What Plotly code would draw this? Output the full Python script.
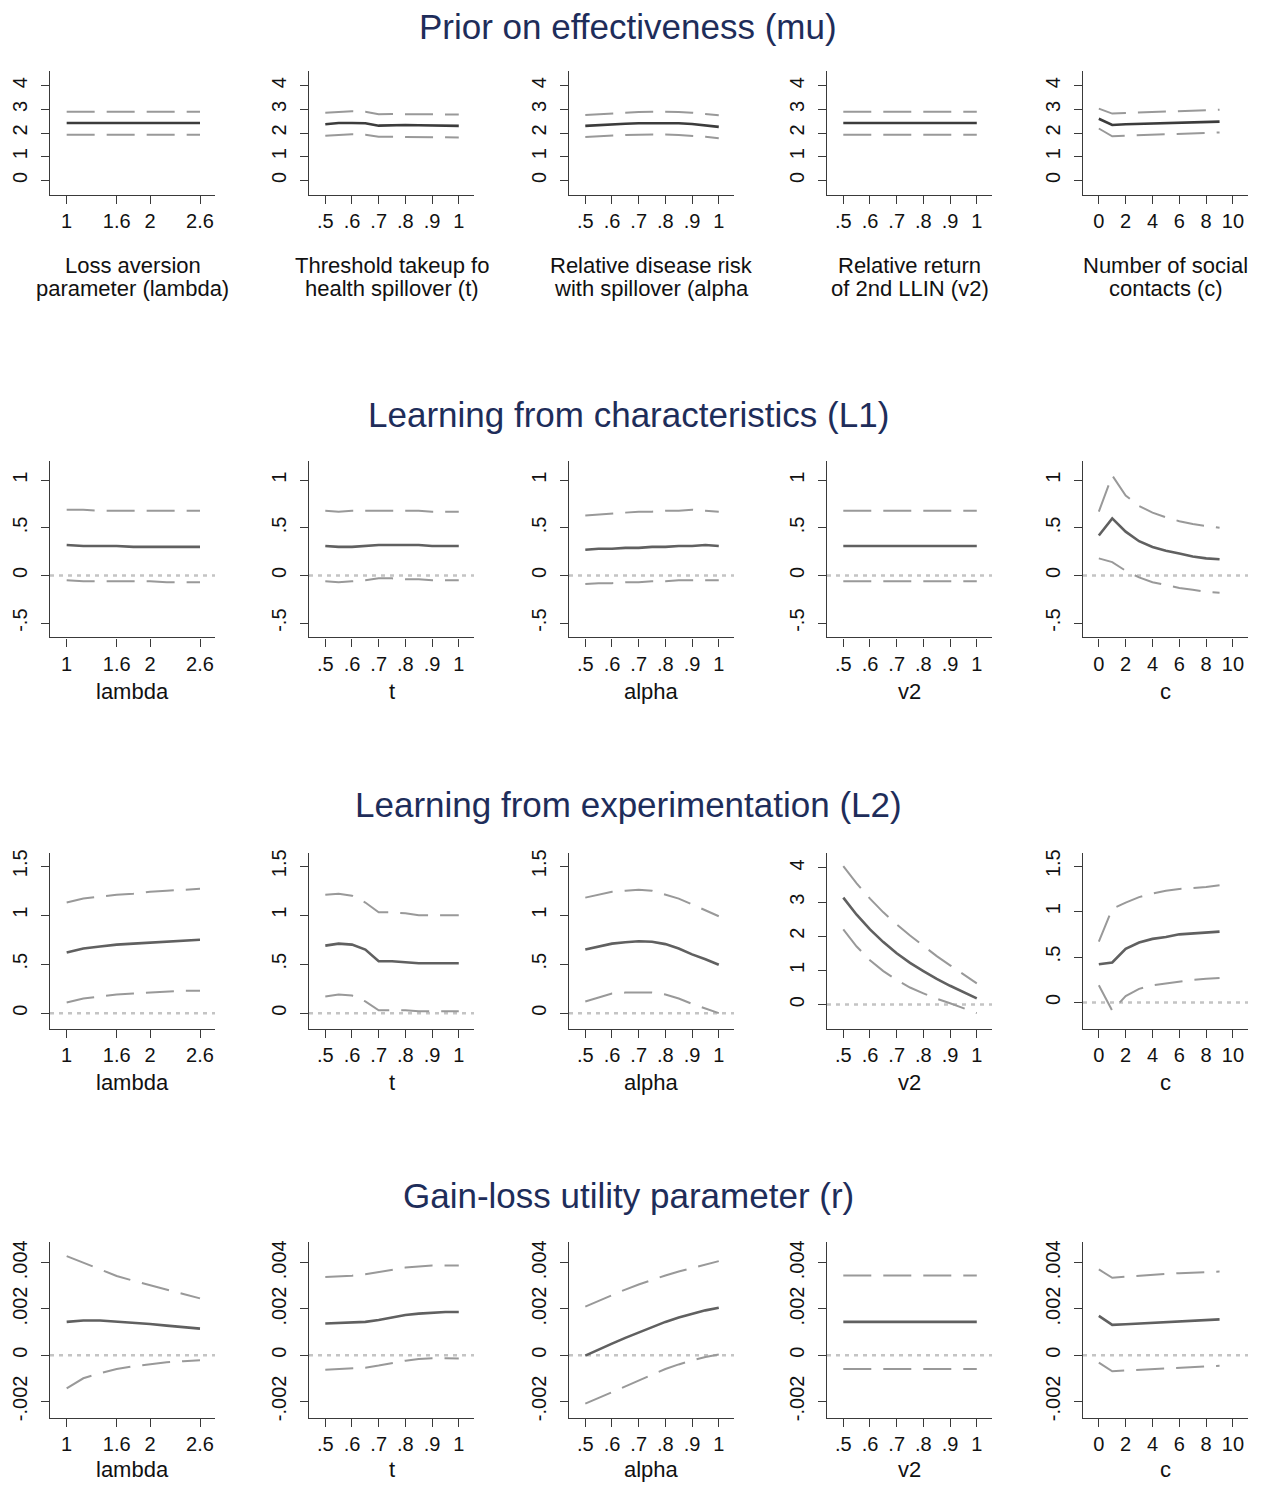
import plotly.graph_objects as go

# ---------------- x grids ----------------
lam_x = [1.0, 1.2, 1.4, 1.6, 1.8, 2.0, 2.2, 2.4, 2.6]
t_x = [0.5, 0.55, 0.6, 0.65, 0.7, 0.75, 0.8, 0.85, 0.9, 0.95, 1.0]
alpha_x = [0.5, 0.55, 0.6, 0.65, 0.7, 0.75, 0.8, 0.85, 0.9, 0.95, 1.0]
v2_x = [0.5, 0.55, 0.6, 0.65, 0.7, 0.75, 0.8, 0.85, 0.9, 0.95, 1.0]
c_x = [0, 1, 2, 3, 4, 5, 6, 7, 8, 9]

# ---------------- Row 1: Prior on effectiveness (mu) ----------------
mu_lam_est = [2.42, 2.42, 2.42, 2.42, 2.42, 2.42, 2.42, 2.42, 2.42]
mu_lam_hi = [2.90, 2.90, 2.90, 2.90, 2.90, 2.90, 2.90, 2.90, 2.90]
mu_lam_lo = [1.93, 1.93, 1.93, 1.93, 1.93, 1.93, 1.93, 1.93, 1.93]
mu_t_est = [2.37, 2.42, 2.42, 2.41, 2.31, 2.33, 2.34, 2.33, 2.31, 2.30, 2.30]
mu_t_hi = [2.86, 2.90, 2.92, 2.90, 2.79, 2.80, 2.80, 2.79, 2.78, 2.78, 2.78]
mu_t_lo = [1.88, 1.93, 1.95, 1.93, 1.84, 1.84, 1.84, 1.83, 1.82, 1.81, 1.81]
mu_a_est = [2.30, 2.34, 2.37, 2.39, 2.41, 2.42, 2.42, 2.41, 2.38, 2.33, 2.26]
mu_a_hi = [2.76, 2.80, 2.84, 2.87, 2.89, 2.90, 2.90, 2.89, 2.86, 2.81, 2.75]
mu_a_lo = [1.83, 1.87, 1.90, 1.92, 1.93, 1.94, 1.94, 1.92, 1.89, 1.84, 1.78]
mu_v2_est = [2.42, 2.42, 2.42, 2.42, 2.42, 2.42, 2.42, 2.42, 2.42, 2.42, 2.42]
mu_v2_hi = [2.90, 2.90, 2.90, 2.90, 2.90, 2.90, 2.90, 2.90, 2.90, 2.90, 2.90]
mu_v2_lo = [1.93, 1.93, 1.93, 1.93, 1.93, 1.93, 1.93, 1.93, 1.93, 1.93, 1.93]
mu_c_est = [2.60, 2.34, 2.37, 2.39, 2.41, 2.43, 2.45, 2.47, 2.48, 2.48]
mu_c_hi = [3.03, 2.82, 2.85, 2.87, 2.90, 2.92, 2.94, 2.96, 2.98, 2.98]
mu_c_lo = [2.19, 1.86, 1.89, 1.91, 1.93, 1.95, 1.97, 1.99, 2.01, 2.02]

# ---------------- Row 2: Learning from characteristics (L1) ----------------
l1_lam_est = [0.32, 0.31, 0.31, 0.31, 0.30, 0.30, 0.30, 0.30, 0.30]
l1_lam_hi = [0.69, 0.69, 0.68, 0.68, 0.68, 0.68, 0.68, 0.68, 0.68]
l1_lam_lo = [-0.05, -0.06, -0.06, -0.06, -0.06, -0.06, -0.07, -0.07, -0.07]
l1_t_est = [0.31, 0.30, 0.30, 0.31, 0.32, 0.32, 0.32, 0.32, 0.31, 0.31, 0.31]
l1_t_hi = [0.68, 0.67, 0.68, 0.68, 0.68, 0.68, 0.68, 0.68, 0.67, 0.67, 0.67]
l1_t_lo = [-0.06, -0.07, -0.06, -0.05, -0.03, -0.03, -0.04, -0.04, -0.05, -0.05, -0.05]
l1_a_est = [0.27, 0.28, 0.28, 0.29, 0.29, 0.30, 0.30, 0.31, 0.31, 0.32, 0.31]
l1_a_hi = [0.63, 0.64, 0.65, 0.66, 0.67, 0.67, 0.68, 0.68, 0.69, 0.68, 0.67]
l1_a_lo = [-0.09, -0.08, -0.08, -0.07, -0.07, -0.06, -0.06, -0.05, -0.05, -0.05, -0.05]
l1_v2_est = [0.31, 0.31, 0.31, 0.31, 0.31, 0.31, 0.31, 0.31, 0.31, 0.31, 0.31]
l1_v2_hi = [0.68, 0.68, 0.68, 0.68, 0.68, 0.68, 0.68, 0.68, 0.68, 0.68, 0.68]
l1_v2_lo = [-0.06, -0.06, -0.06, -0.06, -0.06, -0.06, -0.06, -0.06, -0.06, -0.06, -0.06]
l1_c_est = [0.42, 0.60, 0.46, 0.36, 0.30, 0.26, 0.23, 0.20, 0.18, 0.17]
l1_c_hi = [0.67, 1.05, 0.84, 0.73, 0.66, 0.61, 0.57, 0.54, 0.52, 0.50]
l1_c_lo = [0.18, 0.14, 0.05, -0.02, -0.07, -0.10, -0.13, -0.15, -0.17, -0.18]

# ---------------- Row 3: Learning from experimentation (L2) ----------------
l2_lam_est = [0.62, 0.66, 0.68, 0.70, 0.71, 0.72, 0.73, 0.74, 0.75]
l2_lam_hi = [1.13, 1.17, 1.19, 1.21, 1.22, 1.24, 1.25, 1.26, 1.27]
l2_lam_lo = [0.11, 0.15, 0.17, 0.19, 0.20, 0.21, 0.22, 0.23, 0.23]
l2_t_est = [0.69, 0.71, 0.70, 0.65, 0.53, 0.53, 0.52, 0.51, 0.51, 0.51, 0.51]
l2_t_hi = [1.21, 1.22, 1.20, 1.13, 1.03, 1.03, 1.02, 1.00, 1.00, 1.00, 1.00]
l2_t_lo = [0.17, 0.19, 0.18, 0.12, 0.03, 0.03, 0.03, 0.02, 0.02, 0.02, 0.02]
l2_a_est = [0.65, 0.68, 0.71, 0.725, 0.735, 0.73, 0.705, 0.66, 0.60, 0.55, 0.495]
l2_a_hi = [1.18, 1.21, 1.24, 1.25, 1.26, 1.25, 1.21, 1.17, 1.11, 1.05, 0.99]
l2_a_lo = [0.12, 0.16, 0.20, 0.21, 0.21, 0.21, 0.19, 0.15, 0.095, 0.05, 0.0]
l2_v2_est = [3.13, 2.63, 2.20, 1.83, 1.50, 1.22, 0.98, 0.75, 0.55, 0.36, 0.18]
l2_v2_hi = [4.05, 3.55, 3.10, 2.70, 2.35, 2.02, 1.72, 1.42, 1.15, 0.88, 0.62]
l2_v2_lo = [2.20, 1.70, 1.30, 0.98, 0.72, 0.50, 0.33, 0.17, 0.04, -0.10, -0.25]
l2_c_est = [0.42, 0.44, 0.59, 0.66, 0.70, 0.72, 0.75, 0.76, 0.77, 0.78]
l2_c_hi = [0.67, 1.03, 1.10, 1.16, 1.20, 1.23, 1.25, 1.26, 1.27, 1.29]
l2_c_lo = [0.19, -0.09, 0.07, 0.15, 0.19, 0.21, 0.23, 0.25, 0.26, 0.27]

# ---------------- Row 4: Gain-loss utility parameter (r) ----------------
r_lam_est = [0.00144, 0.00150, 0.00150, 0.00146, 0.00141, 0.00135, 0.00128, 0.00121, 0.00115]
r_lam_hi = [0.00429, 0.00400, 0.00370, 0.00343, 0.00322, 0.00304, 0.00285, 0.00265, 0.00246]
r_lam_lo = [-0.00144, -0.00100, -0.00078, -0.00060, -0.00048, -0.00039, -0.00031, -0.00026, -0.00022]
r_t_est = [0.00137, 0.00139, 0.00142, 0.00144, 0.00152, 0.00163, 0.00174, 0.00180, 0.00185, 0.00187, 0.00187]
r_t_hi = [0.00338, 0.00340, 0.00344, 0.00350, 0.00360, 0.00371, 0.00379, 0.00384, 0.00388, 0.00388, 0.00388]
r_t_lo = [-0.00063, -0.00061, -0.00058, -0.00054, -0.00045, -0.00033, -0.00024, -0.00017, -0.00013, -0.00013, -0.00014]
r_a_est = [-0.00002, 0.00025, 0.00050, 0.00075, 0.00099, 0.00122, 0.00144, 0.00163, 0.00180, 0.00194, 0.00205]
r_a_hi = [0.00210, 0.00235, 0.00260, 0.00284, 0.00306, 0.00326, 0.00345, 0.00362, 0.00378, 0.00393, 0.00407]
r_a_lo = [-0.00210, -0.00185, -0.00160, -0.00135, -0.00110, -0.00085, -0.00060, -0.00040, -0.00022, -0.00008, 0.00003]
r_v2_est = [0.00144, 0.00144, 0.00144, 0.00144, 0.00144, 0.00144, 0.00144, 0.00144, 0.00144, 0.00144, 0.00144]
r_v2_hi = [0.00345, 0.00345, 0.00345, 0.00345, 0.00345, 0.00345, 0.00345, 0.00345, 0.00345, 0.00345, 0.00345]
r_v2_lo = [-0.00060, -0.00060, -0.00060, -0.00060, -0.00060, -0.00060, -0.00060, -0.00060, -0.00060, -0.00060, -0.00060]
r_c_est = [0.00170, 0.00131, 0.00134, 0.00137, 0.00140, 0.00143, 0.00146, 0.00149, 0.00152, 0.00155]
r_c_hi = [0.00371, 0.00335, 0.00340, 0.00345, 0.00349, 0.00352, 0.00355, 0.00358, 0.00360, 0.00362]
r_c_lo = [-0.00032, -0.00070, -0.00066, -0.00063, -0.00060, -0.00057, -0.00054, -0.00051, -0.00048, -0.00046]

# ---------------- titles & ticks ----------------
row_titles = ["Prior on effectiveness (mu)", "Learning from characteristics (L1)",
              "Learning from experimentation (L2)", "Gain-loss utility parameter (r)"]
row1_xtitles = [("Loss aversion", "parameter (lambda)"),
                ("Threshold takeup fo", "health spillover (t)"),
                ("Relative disease risk", "with spillover (alpha"),
                ("Relative return", "of 2nd LLIN (v2)"),
                ("Number of social", "contacts (c)")]
short_xtitles = ["lambda", "t", "alpha", "v2", "c"]

lam_ticks = [1, 1.6, 2, 2.6]
lam_ticklabels = ["1", "1.6", "2", "2.6"]
unit_ticks = [0.5, 0.6, 0.7, 0.8, 0.9, 1.0]
unit_ticklabels = [".5", ".6", ".7", ".8", ".9", "1"]
c_ticks = [0, 2, 4, 6, 8, 10]
c_ticklabels = ["0", "2", "4", "6", "8", "10"]

mu_yticks = [0, 1, 2, 3, 4]
mu_yticklabels = ["0", "1", "2", "3", "4"]
l1_yticks = [-0.5, 0, 0.5, 1]
l1_yticklabels = ["-.5", "0", ".5", "1"]
l2_yticks = [0, 0.5, 1, 1.5]
l2_yticklabels = ["0", ".5", "1", "1.5"]
v2_yticks = [0, 1, 2, 3, 4]
v2_yticklabels = ["0", "1", "2", "3", "4"]
r_yticks = [-0.002, 0, 0.002, 0.004]
r_yticklabels = ["-.002", "0", ".002", ".004"]

# ---------------- layout geometry (pixels, in the 1275x1491 page) ----------------
PAGE_OFF = 8                     # default body margin of the html page
W, H = 1275 - 2 * PAGE_OFF, 1491 - 2 * PAGE_OFF
col_left = [50, 309, 569, 827, 1083]
plot_w = 165
row_top = [68, 460, 853, 1244]
row_bot = [193, 637, 1030, 1421]
title_y = [24, 413, 805, 1197]
xtitle_y = [None, 691, 1084, 1472]


def px(v):
    return (v - PAGE_OFF) / W


def py(v):
    return 1 - (v - PAGE_OFF) / H


xs = [lam_x, t_x, alpha_x, v2_x, c_x]
x_ranges = [[0.80, 2.78], [0.439, 1.057], [0.439, 1.057], [0.439, 1.057], [-1.18, 11.12]]
x_ticks = [(lam_ticks, lam_ticklabels), (unit_ticks, unit_ticklabels), (unit_ticks, unit_ticklabels),
           (unit_ticks, unit_ticklabels), (c_ticks, c_ticklabels)]

series = [
    [(mu_lam_est, mu_lam_hi, mu_lam_lo), (mu_t_est, mu_t_hi, mu_t_lo), (mu_a_est, mu_a_hi, mu_a_lo),
     (mu_v2_est, mu_v2_hi, mu_v2_lo), (mu_c_est, mu_c_hi, mu_c_lo)],
    [(l1_lam_est, l1_lam_hi, l1_lam_lo), (l1_t_est, l1_t_hi, l1_t_lo), (l1_a_est, l1_a_hi, l1_a_lo),
     (l1_v2_est, l1_v2_hi, l1_v2_lo), (l1_c_est, l1_c_hi, l1_c_lo)],
    [(l2_lam_est, l2_lam_hi, l2_lam_lo), (l2_t_est, l2_t_hi, l2_t_lo), (l2_a_est, l2_a_hi, l2_a_lo),
     (l2_v2_est, l2_v2_hi, l2_v2_lo), (l2_c_est, l2_c_hi, l2_c_lo)],
    [(r_lam_est, r_lam_hi, r_lam_lo), (r_t_est, r_t_hi, r_t_lo), (r_a_est, r_a_hi, r_a_lo),
     (r_v2_est, r_v2_hi, r_v2_lo), (r_c_est, r_c_hi, r_c_lo)],
]


def y_setup(r, c):
    if r == 0:
        return mu_yticks, mu_yticklabels, [-0.63, 4.63]
    if r == 1:
        return l1_yticks, l1_yticklabels, [-0.65, 1.2]
    if r == 2:
        if c == 3:
            return v2_yticks, v2_yticklabels, [-0.71, 4.45]
        if c == 4:
            return l2_yticks, l2_yticklabels, [-0.29, 1.65]
        return l2_yticks, l2_yticklabels, [-0.16, 1.64]
    return r_yticks, r_yticklabels, [-0.00273, 0.0049]


FONT = "Liberation Sans, Arial, Helvetica, sans-serif"
AXIS_COL = "#3a3a3a"
EST_COL = ["#3c3c3c", "#606060", "#606060", "#606060"]
CI_COL = "#999999"
ZERO_COL = "#c4c4c4"
TICK_SIZE = 20
XTITLE_SIZE = 22
TITLE_SIZE = 35

fig = go.Figure()
layout = {}
shapes = []
annotations = []

for r in range(4):
    for c in range(5):
        n = r * 5 + c + 1
        xa = "x" if n == 1 else f"x{n}"
        ya = "y" if n == 1 else f"y{n}"
        xkey = "xaxis" if n == 1 else f"xaxis{n}"
        ykey = "yaxis" if n == 1 else f"yaxis{n}"
        x = xs[c]
        est, hi, lo = series[r][c]

        # zero reference line (rows 2-4)
        if r > 0:
            shapes.append(dict(type="line", xref=f"{xa} domain", yref=ya, x0=0, x1=1, y0=0, y1=0,
                               line=dict(color=ZERO_COL, width=2.5, dash="4px,5px"), layer="below"))

        fig.add_trace(go.Scatter(x=x, y=hi, mode="lines", xaxis=xa, yaxis=ya, showlegend=False,
                                 line=dict(color=CI_COL, width=2, dash="28px,12px")))
        fig.add_trace(go.Scatter(x=x, y=lo, mode="lines", xaxis=xa, yaxis=ya, showlegend=False,
                                 line=dict(color=CI_COL, width=2, dash="28px,12px")))
        fig.add_trace(go.Scatter(x=x, y=est, mode="lines", xaxis=xa, yaxis=ya, showlegend=False,
                                 line=dict(color=EST_COL[r], width=2.6)))

        left = col_left[c]
        xd = [px(left), px(left + plot_w)]
        yd = [py(row_bot[r]), py(row_top[r])]
        tv, tt = x_ticks[c]
        layout[xkey] = dict(domain=xd, anchor=ya, range=x_ranges[c], tickvals=tv, ticktext=tt,
                            showgrid=False, zeroline=False, showline=True, linecolor=AXIS_COL,
                            linewidth=1.3, ticks="outside", ticklen=8, tickwidth=1.3,
                            tickcolor=AXIS_COL, ticklabelstandoff=0,
                            tickfont=dict(size=TICK_SIZE, color="#111", family=FONT),
                            fixedrange=True)
        ytv, ytt, yr = y_setup(r, c)
        layout[ykey] = dict(domain=yd, anchor=xa, range=yr, tickvals=ytv, ticktext=ytt,
                            showgrid=False, zeroline=False, showline=True, linecolor=AXIS_COL,
                            linewidth=1.3, ticks="outside", ticklen=8, tickwidth=1.3,
                            tickcolor=AXIS_COL, tickangle=-90, ticklabelstandoff=6,
                            tickfont=dict(size=TICK_SIZE, color="#111", family=FONT),
                            fixedrange=True)

        cx = px(left + plot_w / 2)
        if r == 0:
            l1, l2 = row1_xtitles[c]
            annotations.append(dict(x=cx, y=py(264), xref="paper", yref="paper", text=l1,
                                    showarrow=False, xanchor="center", yanchor="middle",
                                    font=dict(size=XTITLE_SIZE, color="#111", family=FONT)))
            annotations.append(dict(x=cx, y=py(287), xref="paper", yref="paper", text=l2,
                                    showarrow=False, xanchor="center", yanchor="middle",
                                    font=dict(size=XTITLE_SIZE, color="#111", family=FONT)))
        else:
            annotations.append(dict(x=cx, y=py(xtitle_y[r]), xref="paper", yref="paper",
                                    text=short_xtitles[c], showarrow=False, xanchor="center",
                                    yanchor="middle",
                                    font=dict(size=XTITLE_SIZE, color="#111", family=FONT)))

    annotations.append(dict(x=px(628), y=py(title_y[r]), xref="paper", yref="paper",
                            text=row_titles[r], showarrow=False, xanchor="center", yanchor="middle",
                            font=dict(size=TITLE_SIZE, color="#1e2d5a", family=FONT)))

fig.update_layout(width=W, height=H, margin=dict(l=0, r=0, t=0, b=0),
                  paper_bgcolor="white", plot_bgcolor="white",
                  shapes=shapes, annotations=annotations, **layout)

fig.write_html("out.html")
